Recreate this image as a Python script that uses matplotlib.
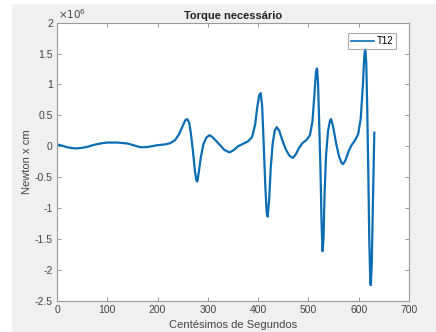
import matplotlib
matplotlib.use('Agg')
import matplotlib.pyplot as plt
import matplotlib.patches as patches

# dados (centesimos de segundo, torque em 1e6 N.cm)
t = [0, 10, 20, 30, 39, 50, 60, 70, 80, 90, 100, 120, 140, 155, 165, 175, 185, 198,
     215, 225, 235, 243, 250, 255, 259, 263, 266, 270, 274, 277, 279, 282, 286, 291,
     297, 303, 309, 316, 324, 333, 343, 352, 360, 370, 380, 388, 394, 398, 402, 405,
     408, 411, 414, 417, 419, 422, 425, 429, 433, 437, 442, 448, 455, 462, 469, 475,
     481, 488, 496, 503, 508, 512, 515, 517, 519, 521, 524, 526, 528, 530, 532, 535,
     539, 543, 545, 549, 555, 561, 566, 569, 574, 580, 586, 593, 599, 604, 608, 611,
     613, 615, 617, 619, 621, 623, 624, 626, 628, 630, 631]
T12 = [0.03, 0.01, -0.015, -0.03, -0.035, -0.025, -0.01, 0.015, 0.035, 0.05, 0.06, 0.06,
       0.045, 0.01, -0.015, -0.015, -0.005, 0.015, 0.03, 0.05, 0.10, 0.20, 0.33, 0.42,
       0.44, 0.38, 0.22, -0.05, -0.38, -0.55, -0.57, -0.42, -0.18, 0.03, 0.14, 0.18,
       0.15, 0.09, 0.02, -0.06, -0.10, -0.06, 0.0, 0.04, 0.08, 0.15, 0.35, 0.62, 0.82,
       0.86, 0.65, 0.05, -0.6, -1.08, -1.14, -0.85, -0.35, 0.05, 0.25, 0.31, 0.25, 0.10,
       -0.05, -0.15, -0.19, -0.13, -0.03, 0.05, 0.10, 0.18, 0.40, 0.85, 1.20, 1.26, 1.05,
       0.50, -0.40, -1.20, -1.70, -1.50, -0.80, -0.15, 0.25, 0.42, 0.44, 0.32, 0.05,
       -0.17, -0.27, -0.29, -0.22, -0.08, 0.02, 0.10, 0.20, 0.45, 0.95, 1.45, 1.59, 1.35,
       0.60, -0.40, -1.50, -2.20, -2.25, -1.90, -1.00, -0.20, 0.22]

xticks = [0, 100, 200, 300, 400, 500, 600, 700]
yticks = [2, 1.5, 1, 0.5, 0, -0.5, -1, -1.5, -2, -2.5]
ylabels = ['2', '1.5', '1', '0.5', '0', '-0.5', '-1', '-1.5', '-2', '-2.5']

plt.rcParams['font.family'] = ['Liberation Sans', 'DejaVu Sans']

fig = plt.figure(figsize=(4.36, 3.32), dpi=100)
fig.patch.set_facecolor('#f0f0f0')
# faixas brancas da captura
fig.patches.append(patches.Rectangle((0, 0), 12/436, 1, transform=fig.transFigure,
                                     facecolor='white', edgecolor='none', zorder=-1))
fig.patches.append(patches.Rectangle((0, 1 - 4/332), 1, 4/332, transform=fig.transFigure,
                                     facecolor='white', edgecolor='none', zorder=-1))

ax = fig.add_axes([57/436, 31.3/332, 352/436, 278/332])
ax.plot(t, T12, color='#0b6eb4', linewidth=1.6, label='T12', solid_joinstyle='round')

ax.set_xlim(0, 700)
ax.set_ylim(-2.5, 2)
ax.set_xticks(xticks)
ax.set_yticks(yticks)
ax.set_yticklabels(ylabels)
ax.tick_params(direction='in', length=3, width=0.6, colors='#888888',
               labelcolor='#444444', labelsize=7.5, top=True, right=True, pad=3)
for s in ax.spines.values():
    s.set_color('#999999')
    s.set_linewidth(0.8)

ax.set_title('Torque necessário', fontsize=8, fontweight='bold', color='#222222', pad=3)
ax.set_xlabel('Centésimos de Segundos', fontsize=8, color='#444444', labelpad=4)
ax.set_ylabel('Newton x cm', fontsize=8, color='#444444', labelpad=2)
ax.text(0.002, 1.005, r'$\times10^6$', transform=ax.transAxes, fontsize=7.5,
        color='#444444', va='bottom', ha='left')

leg = ax.legend(loc='upper right', bbox_to_anchor=(0.963, 0.962), fontsize=7,
                frameon=True, fancybox=False, handlelength=2.3, borderpad=0.3,
                handletextpad=0.3, borderaxespad=0)
leg.get_frame().set_edgecolor('#999999')
leg.get_frame().set_linewidth(0.8)
leg.get_lines()[0].set_linewidth(1.2)

fig.savefig('out.png', dpi=100, facecolor=fig.get_facecolor())
